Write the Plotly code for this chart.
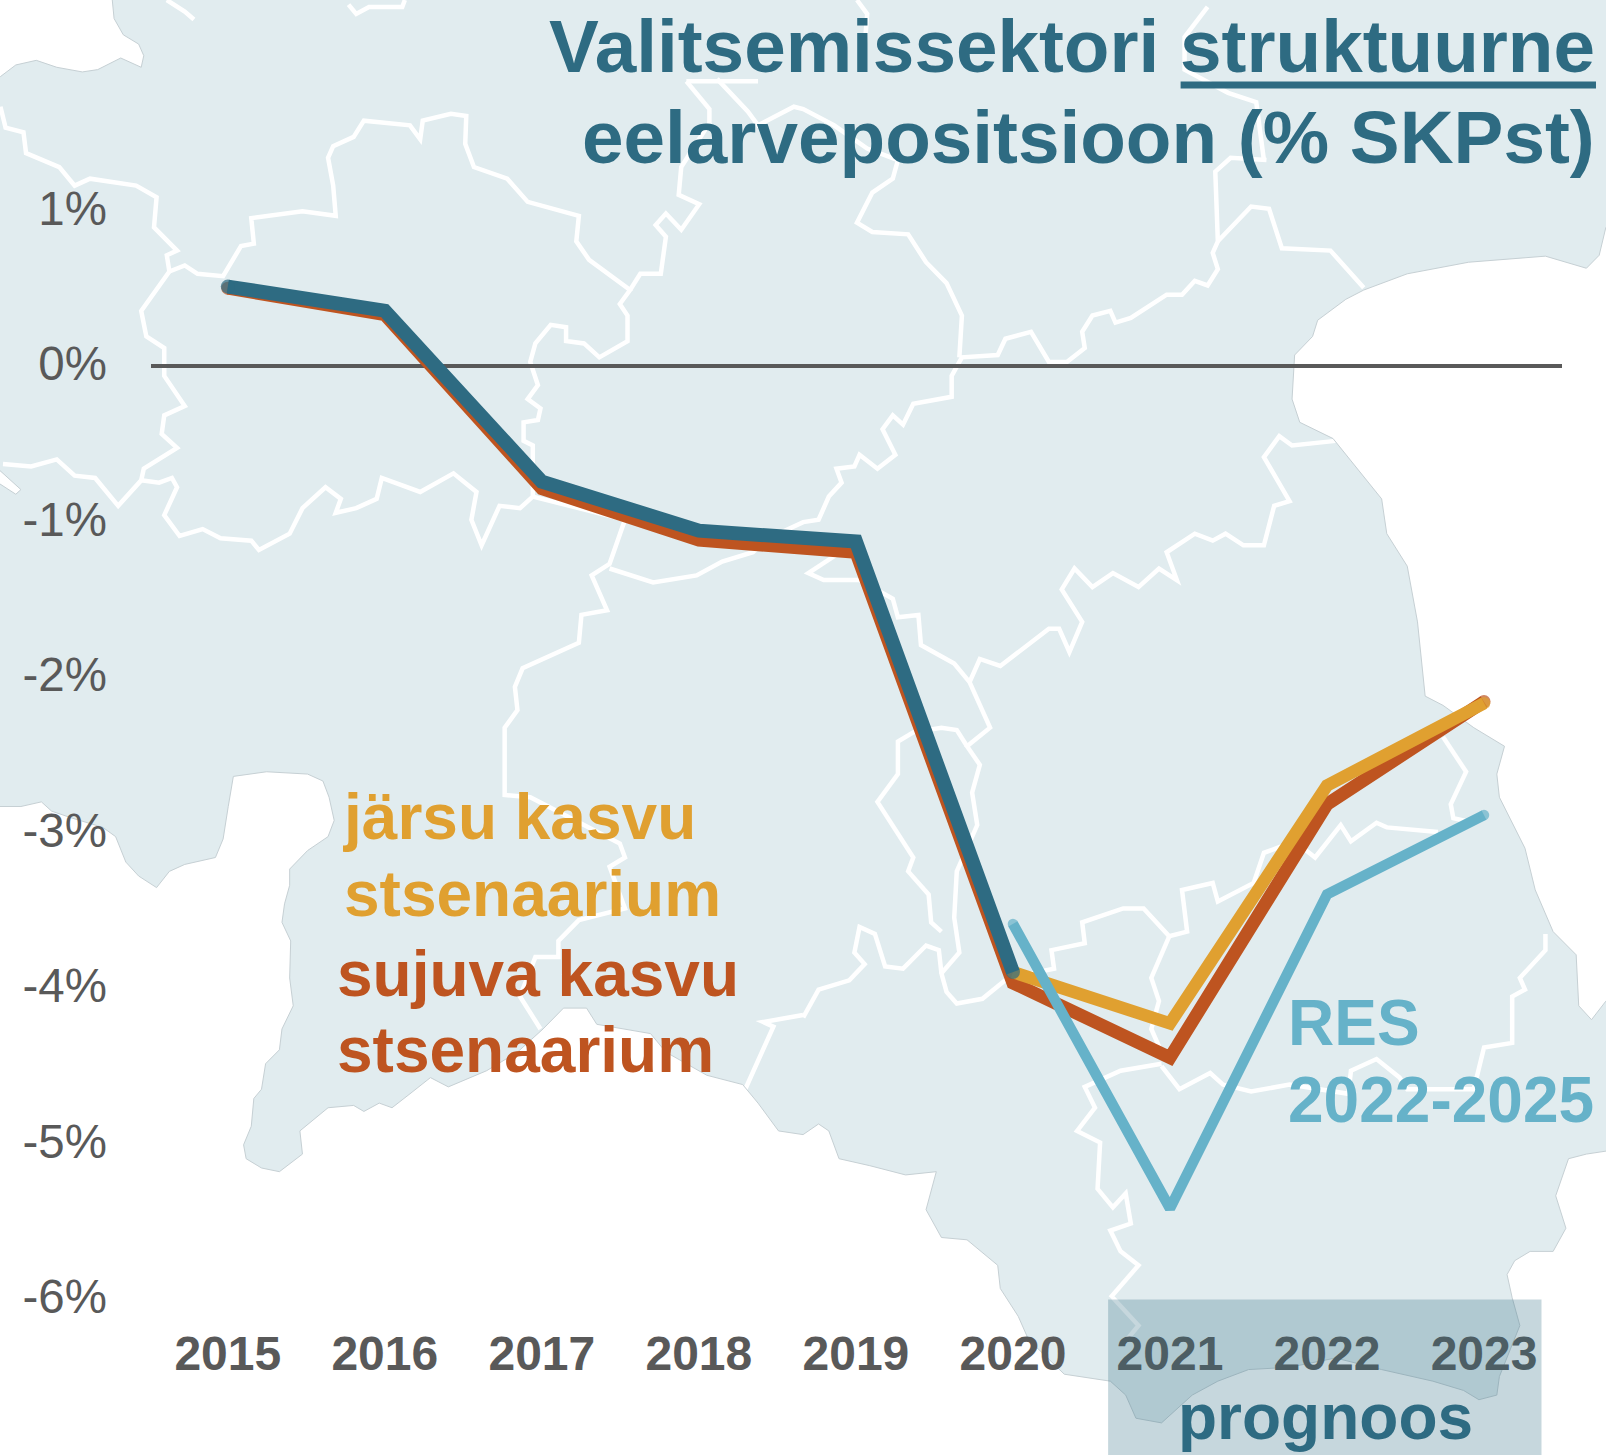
import plotly.graph_objects as go

# ---------- chart data ----------
years = [2015, 2016, 2017, 2018, 2019, 2020, 2021, 2022, 2023]
year_labels = [str(y) for y in years]
y_ticks = [1, 0, -1, -2, -3, -4, -5, -6]
y_labels = ["1%", "0%", "-1%", "-2%", "-3%", "-4%", "-5%", "-6%"]

sujuva = [0.50, 0.33, -0.79, -1.12, -1.20, -3.97, -4.45, -2.82, -2.16]
jarsu = [None, None, None, None, None, -3.90, -4.23, -2.70, -2.17]
tegelik = [0.51, 0.355, -0.745, -1.06, -1.13, -3.90, None, None, None]
res = [None, None, None, None, None, -3.59, -5.42, -3.40, -2.89]

# ---------- colours ----------
DARK, RED, YEL, BLUE = "#2E6B82", "#BE5420", "#E0A030", "#66B2C9"
GREY, LAND = "#595959", "#E1ECEF"
W, H = 1606, 1455
L, R = 150.6, 1562
T, B = 0, 1321.5
F = "Liberation Sans"

def z(q, pts):
    ox = 0 if q in (1, 3) else 803
    oy = 0 if q in (1, 2) else 728
    sy = 2.154 if q in (1, 2) else 2.157
    return [(ox + a / 1.953, oy + b / sy) for a, b in pts]

sea_nw = z(1, [(218,-5),(222,40),(240,75),(270,95),(280,120),(275,145),(235,125),(190,150),(160,155),(110,145),
               (70,130),(30,140),(0,165),(-20,165),(-20,-5)])
sea_islet = z(1, [(-5,1010),(40,1055),(30,1065),(-5,1040)])
sea_sw = (z(3, [(-20,170),(40,170),(80,160),(100,180),(140,195),(200,215),(225,235),(245,290),(270,320),(305,345),
                (330,310),(360,295),(420,280),(435,240),(445,170),(455,105),(520,95),(600,100),(630,115),(642,150),
                (652,200),(640,235),(600,265),(565,305),(565,340),(555,380),(550,420),(567,460),(565,540),(572,600),
                (550,650),(545,695),(518,725),(510,780),(495,800),(490,860),(475,900),(480,930),(510,950),(545,958),
                (590,920),(585,870),(640,820),(690,815),(710,828),(740,810),(765,820),(800,790),(840,755),(875,775),
                (950,740),(1010,700),(1060,650),(1100,605),(1145,605),(1165,640),(1270,660),(1300,700),(1380,750),
                (1450,770),(1480,810),(1520,870),(1568,878)])
          + z(4, [(30,855),(50,870),(70,930),(130,945),(200,965),(260,958),(240,1040),(270,1100),(320,1105),(380,1160),
                  (385,1210),(420,1270),(440,1320),(510,1395),(600,1410),(630,1440),(650,1490),(700,1500),(760,1440),
                  (810,1410),(870,1385),(950,1380),(1040,1360),(1130,1385),(1230,1410),(1290,1430),(1320,1450),
                  (1355,1440),(1360,1400),(1400,1290),(1385,1230),(1375,1180),(1390,1150),(1420,1130),(1465,1130),
                  (1490,1080),(1470,1010),(1495,930),(1530,920),(1590,910),(1590,1600)])
          + z(3, [(-20,1600)]))
sea_e = (z(2, [(1590,480),(1568,490),(1555,550),(1530,578),(1450,552),(1300,565),(1180,590),(1095,625),(1060,645),
               (1005,690),(995,725),(960,765),(955,860),(970,910),(1035,945),(1130,1075),(1140,1150),(1180,1220),
               (1200,1340),(1215,1500),(1250,1520),(1310,1568)])
         + z(4, [(1370,40),(1355,100),(1360,150),(1410,260),(1430,350),(1465,440),(1510,490),(1515,600),(1540,630),
                 (1568,590),(1590,590)]))

borders = [
    z(1, [(325,0),(360,25),(378,42)]),
    z(1, [(680,10),(695,30),(720,15),(785,15),(790,0)]),
    z(1, [(0,230),(10,275),(45,285),(50,330),(115,360),(145,400),(175,385),(265,400),(305,425),(300,490),(345,540),
          (325,550),(330,585),(275,670),(285,725),(320,750),(320,810),(360,875),(320,895),(315,935),(345,965),
          (280,1010),(275,1035),(230,1090),(185,1030),(145,1025),(110,990),(60,1005),(5,1000)]),
    z(1, [(330,585),(360,572),(385,590),(435,595),(470,530),(495,525),(490,470),(590,455),(655,465),(650,400),
          (640,340),(650,315),(690,295),(710,260),(800,270),(820,300),(825,260),(880,245),(910,250),(908,310),
          (925,360),(990,385),(1030,435),(1130,465),(1125,520),(1150,560),(1230,625),(1210,655),(1225,680),
          (1225,735),(1170,770),(1140,740),(1105,735),(1105,705),(1075,700),(1045,740),(1035,780),(1050,830),
          (1030,860),(1055,880),(1050,905),(1022,910),(1022,950),(1040,960),(1040,1070),(1015,1095),(975,1090),
          (940,1175),(920,1120),(930,1060),(885,1020),(820,1060),(745,1030),(735,1075),(695,1095),(655,1105),
          (665,1075),(635,1050),(590,1095),(565,1150),(505,1185),(490,1165),(430,1160),(395,1140),(350,1155),
          (320,1110),(345,1050),(335,1030),(310,1040),(275,1035)]),
    z(1, [(1040,1070),(1220,1120),(1190,1215),(1155,1240),(1185,1315),(1135,1325),(1130,1385),(1020,1440),(1005,1480),
          (1010,1530),(985,1568)]) +
    z(3, [(985,0),(985,145),(1035,150),(1210,250),(1220,280),(1190,300),(1220,390),(1130,415),(1090,460),(1090,495),
          (1045,495),(1015,580),(1055,650)]),
    z(1, [(1190,1225),(1275,1255),(1360,1240),(1410,1210),(1470,1190),(1500,1160)]) +
    z(2, [(0,1125),(30,1120),(50,1070),(75,1040),(65,1010),(100,1005),(110,980),(145,1010),(180,980),(155,925),
          (175,895),(195,915),(215,870),(290,855),(290,810),(310,770),(380,765),(395,730),(445,715),(480,780),
          (515,780),(550,750),(545,715),(565,680),(600,670),(610,695),(640,685),(710,635),(740,635),(765,605),
          (790,615),(810,580),(800,545),(810,520),(805,370),(835,340),(905,345)]),
    z(1, [(1340,175),(1385,235),(1385,265),(1330,360),(1325,420),(1365,440),(1330,495),(1300,460),(1280,485),
          (1300,510),(1290,590),(1250,590),(1230,625)]),
    z(1, [(1340,175),(1480,175)]),
    z(1, [(1400,170),(1460,240),(1480,270),(1550,230)]) + z(2, [(0,235),(60,270),(125,320),(185,345),(175,385),
          (135,415),(105,480),(135,500),(205,505),(240,565),(280,610),(310,680),(305,770)]),
    z(2, [(105,0),(125,30),(120,100)]),
    z(2, [(790,15),(745,80),(745,150),(830,200),(885,220),(900,345)]),
    z(2, [(810,520),(875,445),(910,450),(935,535),(1030,540),(1095,620)]),
    z(2, [(100,1170),(10,1235),(40,1250),(110,1250),(175,1290),(185,1330),(225,1325),(230,1390),(295,1430),(325,1470),
          (365,1568)]) +
    z(4, [(320,40),(345,80),(330,140),(340,210),(300,310),(295,410),(305,485),(270,530),(280,570),(300,595),(350,585),
          (400,540)]),
    z(2, [(325,1470),(345,1420),(385,1435),(480,1355),(500,1355),(520,1405),(545,1340),(505,1270),(530,1225),
          (565,1265),(605,1235),(655,1265),(695,1225),(730,1250),(710,1190),(765,1150),(800,1165),(825,1150),
          (860,1175),(900,1175),(920,1090),(950,1080),(900,985),(930,940),(955,960),(1040,950)]),
    z(3, [(1568,620),(1490,635),(1510,645),(1455,780)]),
    z(4, [(270,530),(265,480),(240,470),(195,520),(160,515),(140,445),(110,430),(100,485),(120,510),(90,545),(30,565),
          (0,625)]),
    z(4, [(320,40),(300,5),(270,0),(215,10),(185,30),(185,100),(145,160),(215,280),(205,310),(245,360),(250,420),(270,440)]),
    z(4, [(400,540),(490,520),(485,480),(550,465),(545,420),(625,390),(665,390),(715,450),(750,440),(740,350),(800,335),
          (810,375),(880,335),(900,270),(960,245),(1000,280),(1050,210),(1070,245),(1120,205),(1140,215),(1240,225)]),
    z(4, [(715,450),(680,540),(695,590),(680,650),(700,700)]),
    z(4, [(700,725),(620,740),(550,775),(570,820),(535,870),(580,895),(575,995),(605,1035),(630,1005),(640,1070),
          (600,1085),(620,1130),(655,1160),(600,1230)]),
    z(4, [(605,1230),(655,1290),(625,1330)]),
    z(4, [(700,730),(735,780),(795,745),(820,770),(875,785),(950,770),(1065,790),(1070,740),(1120,715),(1165,755),
          (1180,780),(1310,780),(1330,690),(1385,680),(1385,580),(1410,565),(1400,540),(1450,480),(1450,445)]),
    z(4, [(1250,20),(1295,95),(1265,165),(1270,195),(1310,205)]),
]

# ---------- helpers: page pixels to plot-area fractions ----------
def px(x):
    return (x - L) / (R - L)
def py(y):
    return 1 - (y - T) / (B - T)
def path(pts, close=False):
    s = "M " + " L ".join(f"{px(a):.5f} {py(b):.5f}" for a, b in pts)
    return s + (" Z" if close else "")

shapes = []
for b in borders:
    shapes.append(dict(type="path", xref="paper", yref="paper", path=path(b), layer="below",
                       line=dict(color="white", width=4.5)))
for s_ in (sea_nw, sea_islet, sea_sw, sea_e):
    shapes.append(dict(type="path", xref="paper", yref="paper", path=path(s_, True), layer="below",
                       fillcolor="white", line=dict(color="#C6D0D4", width=1)))
# forecast band, over the tick labels
shapes.append(dict(type="rect", xref="paper", yref="paper", x0=px(1108), x1=px(1541.5), y0=py(1300), y1=py(1470),
                   layer="above", fillcolor="rgba(46,107,130,0.27)", line=dict(width=0)))
# title underline
shapes.append(dict(type="rect", xref="paper", yref="paper", x0=px(1180.5), x1=px(1596), y0=py(81.5), y1=py(88.5),
                   layer="above", fillcolor=DARK, line=dict(width=0)))

def label(text, x, baseline, size, color, anchor="left"):
    return dict(text=f"<b>{text}</b>", xref="paper", yref="paper", x=px(x), y=py(baseline + 0.212 * size + 1),
                xanchor=anchor, yanchor="bottom", showarrow=False, align=anchor,
                font=dict(family=F, size=size, color=color))

annotations = [
    label("Valitsemissektori struktuurne", 1597, 73.5, 74.7, DARK, "right"),
    label("eelarvepositsioon (% SKPst)", 1597, 164.5, 74.7, DARK, "right"),
    label("järsu kasvu", 341, 841, 64, YEL),
    label("stsenaarium", 342, 918, 64, YEL),
    label("sujuva kasvu", 335, 998, 64, RED),
    label("stsenaarium", 335, 1074, 64, RED),
    label("RES", 1286, 1047, 64, BLUE),
    label("2022-2025", 1286, 1123.5, 64, BLUE),
    label("prognoos", 1325, 1441, 64, DARK, "center"),
]

def series(vals, color, width, name):
    idx = [i for i, v in enumerate(vals) if v is not None]
    sizes = [width if i in (idx[0], idx[-1]) else 0 for i in range(len(vals))]
    return go.Scatter(x=years, y=vals, name=name, mode="lines+markers", connectgaps=False,
                      line=dict(color=color, width=width), marker=dict(color=color, size=sizes, line=dict(width=0)))

fig = go.Figure([
    series(sujuva, RED, 13, "sujuva kasvu stsenaarium"),
    series(jarsu, YEL, 12.5, "järsu kasvu stsenaarium"),
    series(tegelik, DARK, 14, "tegelik"),
    series(res, BLUE, 10.5, "RES 2022-2025"),
])
per_year = 157.1
per_unit = 155.5
zero_px = 366
fig.update_layout(
    width=W, height=H, showlegend=False,
    margin=dict(l=L, r=W - R, t=T, b=H - B, pad=0, autoexpand=False),
    paper_bgcolor=LAND, plot_bgcolor="rgba(0,0,0,0)",
    shapes=shapes, annotations=annotations,
    xaxis=dict(range=[2015 - (227.4 - L) / per_year, 2023 + (R - 1484) / per_year],
               tickmode="array", tickvals=years, ticktext=[f"<b>{t}</b>" for t in year_labels],
               showgrid=False, zeroline=False, showline=False, ticks="",
               tickfont=dict(family=F, size=48, color=GREY), tickangle=0),
    yaxis=dict(range=[-(B - zero_px) / per_unit, zero_px / per_unit],
               tickmode="array", tickvals=y_ticks, ticktext=y_labels,
               showgrid=False, zeroline=True, zerolinecolor=GREY, zerolinewidth=3.5, showline=False, ticks="",
               ticklabelstandoff=43, ticklabelshift=-2, tickfont=dict(family=F, size=47.5, color=GREY)),
)
fig.write_html("out.html", post_script="document.body.style.margin='0';", config={"displayModeBar": False})
